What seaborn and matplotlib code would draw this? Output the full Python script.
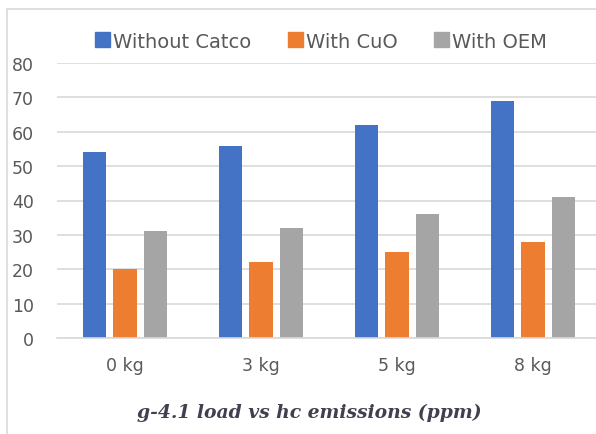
import matplotlib
matplotlib.use("Agg")
import matplotlib.pyplot as plt
import seaborn as sns
import pandas as pd
from matplotlib.patches import Rectangle
from matplotlib.lines import Line2D

categories = ["0 kg", "3 kg", "5 kg", "8 kg"]
series_names = ["Without Catco", "With CuO", "With OEM"]
without_catco = [54, 56, 62, 69]
with_cuo = [20, 22, 25, 28]
with_oem = [31, 32, 36, 41]
y_ticks = [0, 10, 20, 30, 40, 50, 60, 70, 80]
caption = "g-4.1 load vs hc emissions (ppm)"

colors = ["#4472C4", "#ED7D31", "#A5A5A5"]

rows = []
for name, vals in zip(series_names, [without_catco, with_cuo, with_oem]):
    for c, v in zip(categories, vals):
        rows.append({"load": c, "series": name, "value": v})
df = pd.DataFrame(rows)

sns.set_style("white")
plt.rcParams["font.family"] = ["DejaVu Sans"]

W, H = 596, 435
fig = plt.figure(figsize=(W / 100, H / 100), dpi=100)
ax = fig.add_axes([57 / W, (H - 339) / H, 544 / W, 275 / H])

sns.barplot(data=df, x="load", y="value", hue="series", order=categories,
            hue_order=series_names, palette=colors, width=0.67, gap=0.24,
            saturation=1, ax=ax, legend=False, linewidth=0)

ax.set_xlim(-0.5, 3.5)
ax.set_ylim(0, 80)
ax.set_yticks(y_ticks)
ax.set_yticklabels([str(t) for t in y_ticks])
ax.yaxis.grid(True, color="#D9D9D9", linewidth=1.2)
ax.set_axisbelow(True)
for s in ["top", "right", "left"]:
    ax.spines[s].set_visible(False)
ax.spines["bottom"].set_color("#D9D9D9")
ax.spines["bottom"].set_linewidth(1.2)
ax.tick_params(axis="both", length=0, labelsize=12.5, colors="#595959")
ax.tick_params(axis="y", pad=16.5)
ax.tick_params(axis="x", pad=13)
ax.set_xlabel("")
ax.set_ylabel("")

# legend
handles = [Rectangle((0, 0), 1, 1, color=c) for c in colors]
leg = fig.legend(handles, series_names, loc="center", bbox_to_anchor=(321 / W, (H - 42) / H),
                 ncol=3, frameon=False, fontsize=14, handlelength=0.8, handleheight=0.8,
                 handletextpad=0.15, columnspacing=1.85, labelcolor="#595959")

# caption
fig.text(309 / W, (H - 413) / H, caption, ha="center", va="center",
         family=["DejaVu Serif"], style="italic", weight="bold",
         fontsize=13.5, color="#404050")

# outer chart frame (cropped at right and bottom)
fig.add_artist(Line2D([7 / W, 7 / W], [0, (H - 10) / H], transform=fig.transFigure,
                      color="#D9D9D9", linewidth=1.2))
fig.add_artist(Line2D([7 / W, 1], [(H - 10) / H, (H - 10) / H], transform=fig.transFigure,
                      color="#D9D9D9", linewidth=1.2))

fig.savefig("out.png", dpi=100)
